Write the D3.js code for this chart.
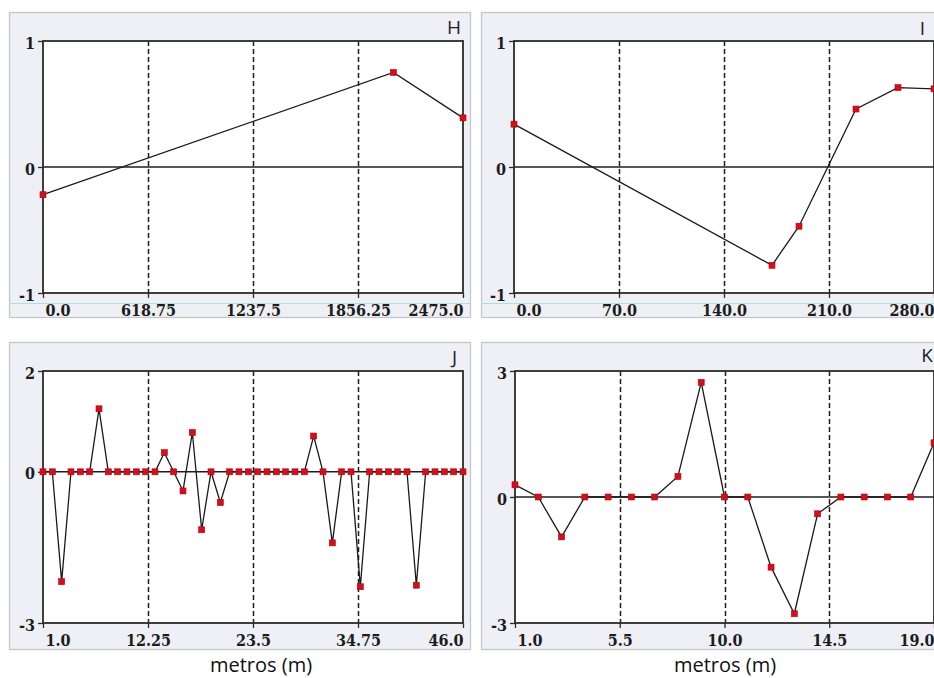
<!DOCTYPE html>
<html>
<head>
<meta charset="utf-8">
<script src="https://cdn.jsdelivr.net/npm/d3@7"></script>
<style>
  html, body { margin: 0; padding: 0; background: #fff; }
  svg { display: block; }
  .axis text {
    font-family: "DejaVu Serif Condensed", "DejaVu Serif", serif;
    font-stretch: condensed;
    font-weight: bold;
    font-size: 16px;
    fill: #1c1c1c;
  }
  .axis line { stroke: #2b2b2b; stroke-width: 1.3; }
  .axis path { display: none; }
  .letter { font-family: "Open Sans", "Noto Sans", sans-serif; font-size: 19px; fill: #222; }
  .xtitle { font-family: "Open Sans", "Noto Sans", sans-serif; font-size: 20px; fill: #111; }
</style>
</head>
<body>
<svg id="chart" width="934" height="678"></svg>
<script>
// ---- Panel H ----
const hDist  = [0, 2065, 2475];
const hValue = [-0.22, 0.75, 0.39];
const hXTicks = [0, 618.75, 1237.5, 1856.25, 2475];
const hYTicks = [-1, 0, 1];

// ---- Panel I ----
const iDist  = [0, 172, 190, 228, 256, 280];
const iValue = [0.34, -0.78, -0.47, 0.46, 0.63, 0.62];
const iXTicks = [0, 70, 140, 210, 280];
const iYTicks = [-1, 0, 1];

// ---- Panel J ----
const jDist = d3.range(1, 47);
const jValue = [
  0, 0, -2.18, 0, 0, 0, 1.25, 0, 0, 0,
  0, 0, 0, 0.38, 0, -0.38, 0.78, -1.15, 0, -0.61,
  0, 0, 0, 0, 0, 0, 0, 0, 0, 0.71,
  0, -1.41, 0, 0, -2.28, 0, 0, 0, 0, 0,
  -2.25, 0, 0, 0, 0, 0
];
const jXTicks = [1, 12.25, 23.5, 34.75, 46];
const jYTicks = [-3, 0, 2];

// ---- Panel K ----
const kDist = d3.range(1, 20);
const kValue = [
  0.29, 0, -0.95, 0, 0, 0, 0, 0.49, 2.73, 0,
  0, -1.67, -2.78, -0.40, 0, 0, 0, 0, 1.29
];
const kXTicks = [1, 5.5, 10, 14.5, 19];
const kYTicks = [-3, 0, 3];

const xTitle = "metros (m)";

// Layout of the four panels
const panels = [
  { letter: "H", xs: hDist, ys: hValue, xTicks: hXTicks, yTicks: hYTicks,
    frame: [9, 12, 470, 317], plot: [43, 41, 463, 293], letterAt: [461, 34],
    cyan: true },
  { letter: "I", xs: iDist, ys: iValue, xTicks: iXTicks, yTicks: iYTicks,
    frame: [481, 12, 945, 317], plot: [514, 41, 934, 293], letterAt: [925, 35],
    cyan: true },
  { letter: "J", xs: jDist, ys: jValue, xTicks: jXTicks, yTicks: jYTicks,
    frame: [9, 342, 470, 649], plot: [43, 371, 463, 623], letterAt: [457, 364],
    titleAt: [261, 672] },
  { letter: "K", xs: kDist, ys: kValue, xTicks: kXTicks, yTicks: kYTicks,
    frame: [481, 342, 945, 649], plot: [515, 371, 934, 623], letterAt: [933, 362],
    titleAt: [725, 672] }
];

const svg = d3.select("#chart");
svg.append("rect").attr("width", 934).attr("height", 678).attr("fill", "#fff");

const fmtX = v => Number.isInteger(v) ? v.toFixed(1) : String(v);
const fmtY = v => String(v);

panels.forEach(p => {
  const [fx0, fy0, fx1, fy1] = p.frame;
  const [pl, pt, pr, pb] = p.plot;
  const g = svg.append("g");

  // outer panel frame
  g.append("rect")
    .attr("x", fx0 + 0.5).attr("y", fy0 + 0.5)
    .attr("width", fx1 - fx0).attr("height", fy1 - fy0)
    .attr("fill", "#eef0f5").attr("stroke", "#c2c4c8").attr("stroke-width", 1.2);

  if (p.cyan) {
    g.append("line")
      .attr("x1", fx0 + 1).attr("x2", fx1)
      .attr("y1", pb + 10.5).attr("y2", pb + 10.5)
      .attr("stroke", "#a9dfe8").attr("stroke-width", 1.2);
  }

  const x = d3.scaleLinear().domain([p.xTicks[0], p.xTicks[p.xTicks.length - 1]]).range([pl, pr]);
  const y = d3.scaleLinear().domain(d3.extent(p.yTicks)).range([pb, pt]);

  // plot area
  g.append("rect")
    .attr("x", pl).attr("y", pt).attr("width", pr - pl).attr("height", pb - pt)
    .attr("fill", "#fff");

  // dashed vertical grid at inner ticks
  g.selectAll(".grid")
    .data(p.xTicks.slice(1, -1))
    .join("line")
    .attr("x1", d => Math.round(x(d)) + 0.5).attr("x2", d => Math.round(x(d)) + 0.5)
    .attr("y1", pt).attr("y2", pb)
    .attr("stroke", "#1e1e1e").attr("stroke-width", 1.5)
    .attr("stroke-dasharray", "5,3");

  // zero line
  g.append("line")
    .attr("x1", pl).attr("x2", pr)
    .attr("y1", y(0)).attr("y2", y(0))
    .attr("stroke", "#1e1e1e").attr("stroke-width", 1.6);

  // plot border
  g.append("rect")
    .attr("x", pl).attr("y", pt).attr("width", pr - pl).attr("height", pb - pt)
    .attr("fill", "none").attr("stroke", "#2b2b2b").attr("stroke-width", 1.8);

  // x axis
  const xAxis = g.append("g").attr("class", "axis")
    .attr("transform", `translate(0,${pb})`)
    .call(d3.axisBottom(x).tickValues(p.xTicks).tickFormat(fmtX).tickSize(5));
  const nX = p.xTicks.length;
  xAxis.selectAll("text")
    .attr("dy", null).attr("y", 23)
    .attr("text-anchor", (d, i) => i === 0 ? "start" : (i === nX - 1 ? "end" : "middle"))
    .attr("x", (d, i) => i === 0 ? 2 : 0);

  // y axis
  const yAxis = g.append("g").attr("class", "axis")
    .attr("transform", `translate(${pl},0)`)
    .call(d3.axisLeft(y).tickValues(p.yTicks).tickFormat(fmtY).tickSize(5));
  yAxis.selectAll("text")
    .attr("dy", null).attr("y", 7).attr("x", -8);

  // data line and markers
  const pts = p.xs.map((d, i) => [d, p.ys[i]]);
  g.append("path")
    .datum(pts)
    .attr("fill", "none")
    .attr("stroke", "#1a1a1a").attr("stroke-width", 1.3)
    .attr("d", d3.line().x(d => x(d[0])).y(d => y(d[1])));

  g.selectAll(".mk")
    .data(pts)
    .join("rect")
    .attr("x", d => x(d[0]) - 3).attr("y", d => y(d[1]) - 3)
    .attr("width", 6).attr("height", 6)
    .attr("fill", "#d40f1c").attr("stroke", "#a80812").attr("stroke-width", 0.6);

  // panel letter
  g.append("text").attr("class", "letter")
    .attr("x", p.letterAt[0]).attr("y", p.letterAt[1])
    .attr("text-anchor", "end").text(p.letter);

  if (p.titleAt) {
    svg.append("text").attr("class", "xtitle")
      .attr("x", p.titleAt[0]).attr("y", p.titleAt[1])
      .attr("text-anchor", "middle").text(xTitle);
  }
});
</script>
</body>
</html>
